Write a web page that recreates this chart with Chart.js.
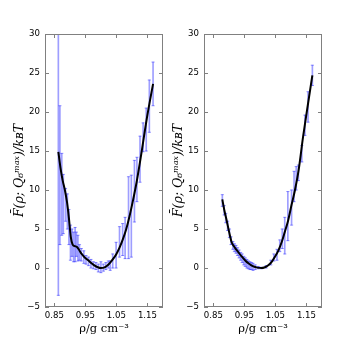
<!DOCTYPE html>
<html>
<head>
<meta charset="utf-8">
<script src="https://cdn.jsdelivr.net/npm/chart.js@4.4.1/dist/chart.umd.min.js"></script>
<style>
    html, body { margin: 0; padding: 0; background: #fff; }
    #wrap { position: relative; width: 359px; height: 341px; }
    .panel { position: absolute; top: 0; }
</style>
</head>
<body>
<div id="wrap">
    <canvas id="leftChart" class="panel" width="180" height="341" style="left:0px"></canvas>
    <canvas id="rightChart" class="panel" width="180" height="341" style="left:159px"></canvas>
</div>
<script>
// Axis ticks
const xTicks = [0.85, 0.95, 1.05, 1.15];
const yTicks = [-5, 0, 5, 10, 15, 20, 25, 30];

// Left panel: smooth free-energy curve
const leftLineX = [0.863, 0.870, 0.877, 0.884, 0.891, 0.897, 0.903, 0.909, 0.916, 0.923, 0.930, 0.938, 0.948, 0.959, 0.970, 0.980, 0.990, 1.000, 1.010, 1.020, 1.030, 1.040, 1.050, 1.060, 1.070, 1.081, 1.092, 1.103, 1.115, 1.130, 1.148, 1.168];
const leftLineY = [14.9, 12.8, 11.2, 10.0, 8.4, 6.4, 4.0, 3.0, 2.8, 2.7, 2.3, 1.8, 1.35, 1.0, 0.6, 0.3, 0.1, 0.0, 0.05, 0.3, 0.7, 1.2, 1.8, 2.6, 3.6, 4.9, 6.6, 8.6, 11.0, 14.6, 19.2, 23.6];

// Left panel: error bars (low / high)
const leftErrX  = [0.863, 0.868, 0.874, 0.879, 0.886, 0.892, 0.897, 0.902, 0.907, 0.912, 0.917, 0.921, 0.926, 0.931, 0.937, 0.945, 0.952, 0.960, 0.968, 0.976, 0.984, 0.992, 1.000, 1.008, 1.016, 1.024, 1.030, 1.038, 1.049, 1.060, 1.070, 1.078, 1.089, 1.098, 1.108, 1.116, 1.126, 1.136, 1.146, 1.156, 1.168];
const leftErrLo = [-3.5, 3.0, 4.2, 4.4, 6.0, 5.0, 3.0, 1.0, 1.5, 0.8, 0.8, 1.5, 0.9, 1.0, 0.9, 0.6, 0.5, 0.3, 0.0, -0.1, -0.2, -0.5, -0.6, -0.4, -0.2, 0.0, -0.3, 0.0, 0.0, 1.4, 1.6, 1.2, 1.2, 1.4, 5.9, 8.5, 11.0, 14.9, 15.0, 17.4, 20.8];
const leftErrHi = [33.0, 20.8, 14.7, 12.0, 10.2, 9.5, 7.5, 5.5, 5.0, 4.6, 5.2, 4.6, 4.2, 3.0, 2.5, 2.2, 1.6, 1.4, 1.1, 0.8, 0.7, 0.5, 0.8, 0.5, 0.7, 0.9, 0.9, 1.8, 3.3, 5.3, 5.7, 6.5, 11.7, 11.9, 13.8, 14.2, 16.9, 18.6, 20.5, 24.1, 26.4];

// Right panel: smooth free-energy curve
const rightLineX = [0.879, 0.886, 0.893, 0.901, 0.909, 0.918, 0.930, 0.941, 0.952, 0.965, 0.979, 0.992, 1.005, 1.016, 1.027, 1.038, 1.048, 1.059, 1.070, 1.080, 1.091, 1.102, 1.113, 1.125, 1.139, 1.154, 1.169];
const rightLineY = [8.8, 7.3, 6.1, 4.6, 3.3, 2.7, 2.05, 1.5, 1.0, 0.55, 0.2, 0.05, 0.0, 0.1, 0.35, 0.8, 1.4, 2.2, 3.3, 4.6, 6.1, 8.1, 10.0, 12.6, 16.8, 20.8, 24.7];

// Right panel: error bars (low / high)
const rightErrX  = [0.879, 0.885, 0.890, 0.896, 0.902, 0.907, 0.913, 0.918, 0.923, 0.928, 0.933, 0.938, 0.943, 0.948, 0.953, 0.958, 0.963, 0.968, 0.973, 0.978, 0.985, 0.995, 1.005, 1.020, 1.035, 1.045, 1.055, 1.064, 1.072, 1.080, 1.090, 1.102, 1.110, 1.117, 1.124, 1.135, 1.145, 1.155, 1.169];
const rightErrLo = [7.9, 6.8, 5.8, 4.8, 3.9, 3.0, 2.4, 2.1, 1.9, 1.6, 1.3, 1.0, 0.7, 0.4, 0.2, 0.0, -0.1, -0.2, -0.2, -0.3, -0.2, -0.1, -0.1, 0.0, 0.4, 0.9, 1.0, 2.1, 2.5, 1.8, 3.5, 5.5, 8.5, 10.0, 11.2, 13.6, 17.0, 18.7, 23.4];
const rightErrHi = [9.4, 8.0, 7.0, 6.0, 5.0, 4.0, 3.4, 3.1, 2.9, 2.6, 2.3, 2.0, 1.8, 1.5, 1.3, 1.1, 0.9, 0.8, 0.7, 0.6, 0.4, 0.2, 0.1, 0.3, 1.0, 1.8, 2.4, 3.6, 5.0, 6.5, 9.8, 10.0, 12.4, 13.0, 13.2, 15.7, 19.6, 22.6, 26.0];

const colors = {
    curve: '#000000',
    err: 'rgba(40, 40, 255, 0.45)',
    frame: '#808080',
    text: '#000000'
};

// Box around plot area with inward ticks on all four sides
const framePlugin = {
    id: 'frame',
    afterDraw(chart) {
        const { ctx, chartArea: a, scales: { x, y } } = chart;
        ctx.save();
        ctx.strokeStyle = colors.frame;
        ctx.lineWidth = 1;
        ctx.strokeRect(a.left + 0.5, a.top + 0.5, a.right - a.left - 1, a.bottom - a.top - 1);
        ctx.beginPath();
        x.ticks.forEach(t => {
            const p = Math.round(x.getPixelForValue(t.value)) + 0.5;
            ctx.moveTo(p, a.top); ctx.lineTo(p, a.top + 4);
            ctx.moveTo(p, a.bottom); ctx.lineTo(p, a.bottom - 4);
        });
        y.ticks.forEach(t => {
            const p = Math.round(y.getPixelForValue(t.value)) + 0.5;
            ctx.moveTo(a.left, p); ctx.lineTo(a.left + 4, p);
            ctx.moveTo(a.right, p); ctx.lineTo(a.right - 4, p);
        });
        ctx.stroke();
        ctx.restore();
    }
};

function makePanel(canvasId, lineX, lineY, errX, errLo, errHi) {
    const ctx = document.getElementById(canvasId).getContext('2d');
    const lineData = lineX.map((x, i) => ({ x: x, y: lineY[i] }));
    const barData = errX.map((x, i) => ({ x: x, y: [errLo[i], errHi[i]] }));
    const capData = errX.map((x, i) => ({ x: x, y: errLo[i] }))
        .concat(errX.map((x, i) => ({ x: x, y: errHi[i] })));

    return new Chart(ctx, {
        type: 'scatter',
        data: {
            datasets: [
                {
                    type: 'line',
                    data: lineData,
                    borderColor: colors.curve,
                    borderWidth: 2,
                    pointRadius: 0,
                    cubicInterpolationMode: 'monotone',
                    fill: false,
                    order: 0
                },
                {
                    type: 'bar',
                    data: barData,
                    backgroundColor: colors.err,
                    borderWidth: 0,
                    barThickness: 1,
                    order: 2
                },
                {
                    type: 'scatter',
                    data: capData,
                    pointStyle: 'line',
                    pointRadius: 1.6,
                    borderColor: colors.err,
                    borderWidth: 1,
                    order: 2
                }
            ]
        },
        options: {
            responsive: false,
            animation: false,
            devicePixelRatio: 1,
            layout: { padding: { left: 0, right: 17, top: 34, bottom: 0 } },
            plugins: {
                legend: { display: false },
                tooltip: { enabled: false }
            },
            scales: {
                x: {
                    type: 'linear',
                    min: 0.82,
                    max: 1.2,
                    offset: false,
                    grid: { display: false, offset: false, drawTicks: false },
                    border: { display: false },
                    afterBuildTicks: scale => { scale.ticks = xTicks.map(v => ({ value: v })); },
                    afterFit: scale => { scale.height = 34; },
                    ticks: {
                        color: colors.text,
                        padding: 4,
                        maxRotation: 0,
                        font: { family: 'DejaVu Sans', size: 8.6 },
                        callback: v => v.toFixed(2)
                    },
                    title: {
                        display: true,
                        text: 'ρ/g cm⁻³',
                        color: colors.text,
                        padding: { top: 0, bottom: 5 },
                        font: { family: 'DejaVu Serif', size: 11.5 }
                    }
                },
                y: {
                    type: 'linear',
                    min: -5,
                    max: 30,
                    grid: { display: false, drawTicks: false },
                    border: { display: false },
                    afterBuildTicks: scale => { scale.ticks = yTicks.map(v => ({ value: v })); },
                    afterFit: scale => { scale.width = 45; },
                    ticks: {
                        color: colors.text,
                        padding: 5,
                        font: { family: 'DejaVu Sans', size: 8.6 },
                        callback: v => String(v).replace('-', '\u2212')
                    },
                    title: {
                        display: true,
                        text: 'F̄(ρ; Q₆ᵐᵃˣ)/kʙT',
                        color: colors.text,
                        padding: { top: 12, bottom: 0 },
                        font: { family: 'DejaVu Serif', size: 12.5, style: 'italic' }
                    }
                }
            }
        },
        plugins: [framePlugin]
    });
}

makePanel('leftChart', leftLineX, leftLineY, leftErrX, leftErrLo, leftErrHi);
makePanel('rightChart', rightLineX, rightLineY, rightErrX, rightErrLo, rightErrHi);
</script>
</body>
</html>
